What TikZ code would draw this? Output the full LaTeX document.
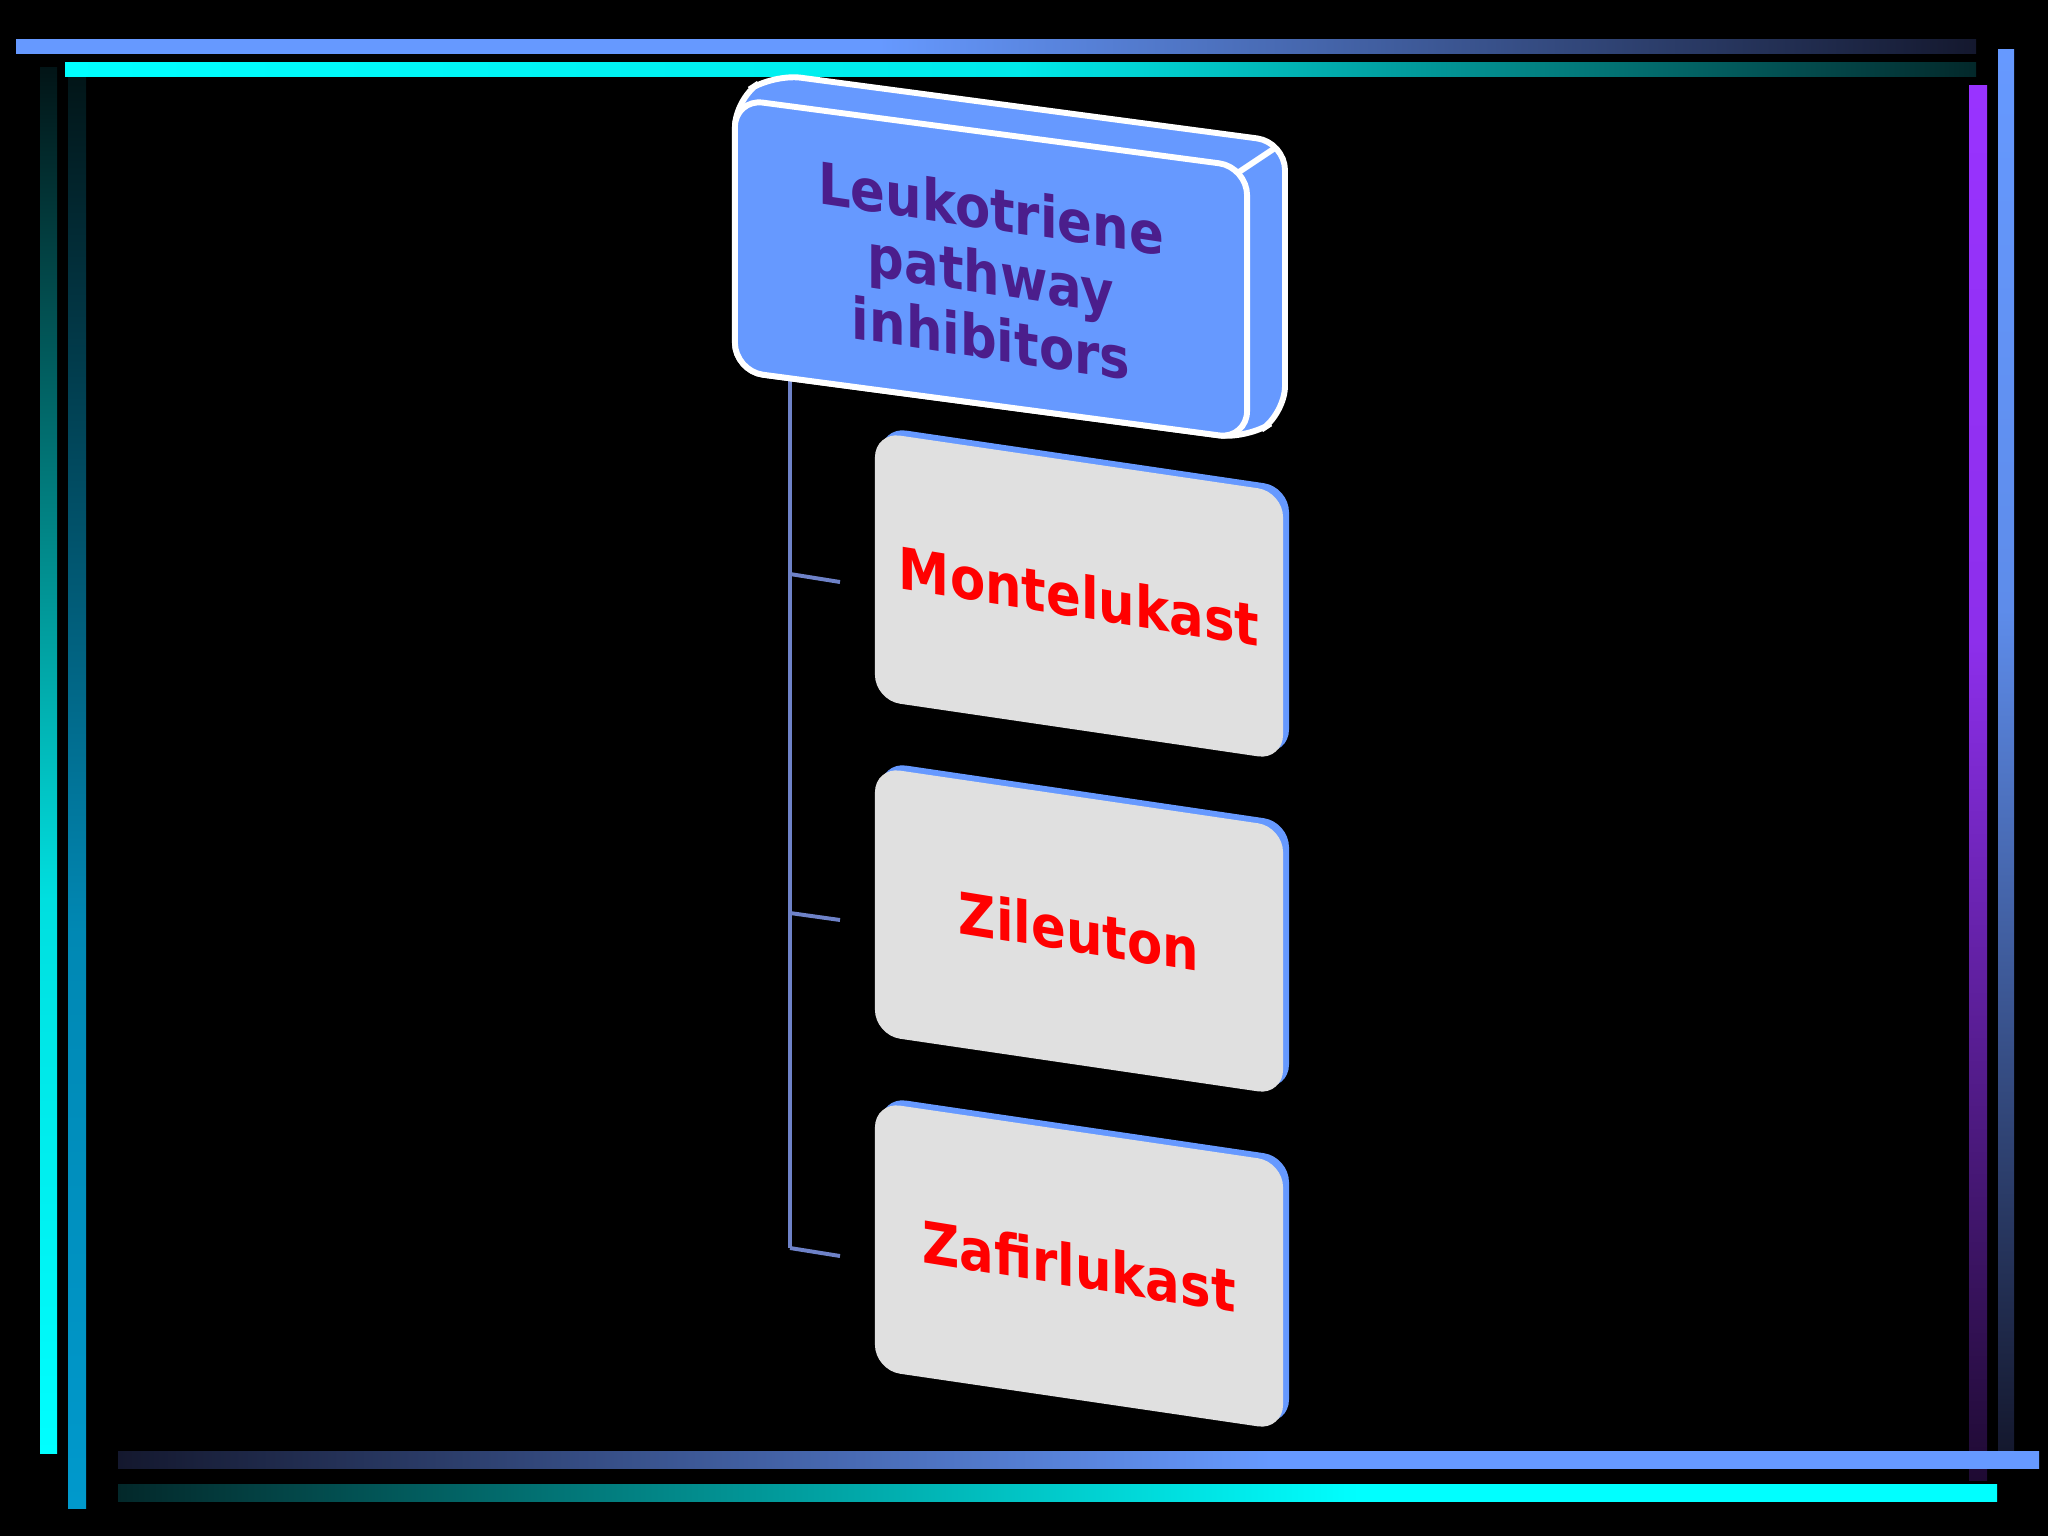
\documentclass[tikz,border=0pt]{standalone}
\usepackage{fontspec}
\setmainfont{DejaVu Sans}
\definecolor{hblue}{HTML}{6699FF}
\definecolor{htext}{HTML}{4B1E8C}
\definecolor{cgrey}{HTML}{E0E0E0}
\definecolor{cred}{HTML}{FF0000}
\definecolor{conn}{HTML}{6E82C8}
\definecolor{bcyan}{HTML}{00FFFF}
\definecolor{bsky}{HTML}{0099CC}
\definecolor{bpurple}{HTML}{9933FF}
\definecolor{dkblue}{HTML}{14182E}
\definecolor{dkteal}{HTML}{03282A}
\definecolor{dkpurple}{HTML}{1E0A32}
\definecolor{vdark}{HTML}{021416}
\pgfdeclarehorizontalshading{topblue}{100bp}{color(0bp)=(hblue); color(25bp)=(hblue); color(47bp)=(hblue); color(75bp)=(dkblue); color(100bp)=(dkblue)}
\pgfdeclarehorizontalshading{topcyan}{100bp}{color(0bp)=(bcyan); color(25bp)=(bcyan); color(50bp)=(bcyan!90!dkteal); color(75bp)=(dkteal); color(100bp)=(dkteal)}
\pgfdeclarehorizontalshading{botblue}{100bp}{color(0bp)=(dkblue); color(25bp)=(dkblue); color(55bp)=(hblue); color(75bp)=(hblue); color(100bp)=(hblue)}
\pgfdeclarehorizontalshading{botcyan}{100bp}{color(0bp)=(dkteal); color(25bp)=(dkteal); color(58bp)=(bcyan); color(75bp)=(bcyan); color(100bp)=(bcyan)}
\pgfdeclareverticalshading{leftcyan}{100bp}{color(0bp)=(bcyan); color(25bp)=(bcyan); color(45bp)=(bcyan!85!dkteal); color(75bp)=(vdark); color(100bp)=(vdark)}
\pgfdeclareverticalshading{leftsky}{100bp}{color(0bp)=(bsky); color(25bp)=(bsky); color(45bp)=(bsky!85!dkteal); color(75bp)=(vdark); color(100bp)=(vdark)}
\pgfdeclareverticalshading{rightpurple}{100bp}{color(0bp)=(dkpurple); color(25bp)=(dkpurple); color(55bp)=(bpurple!90!dkpurple); color(75bp)=(bpurple); color(100bp)=(bpurple)}
\pgfdeclareverticalshading{rightblue}{100bp}{color(0bp)=(dkblue); color(25bp)=(dkblue); color(55bp)=(hblue!90!dkblue); color(75bp)=(hblue); color(100bp)=(hblue)}
\begin{document}
\begin{tikzpicture}[x=0.0125cm,y=-0.0125cm,
  lbl/.style={font=\bfseries\fontsize{20.5}{23.1}\selectfont, inner sep=0pt, align=center, xscale=0.89, transform shape},
  hface/.style={draw=white, line width=2.1pt, fill=hblue, rounded corners=10pt, minimum width=6.4cm, minimum height=3.4cm, inner sep=0pt, transform shape},
  cface/.style={fill=cgrey, rounded corners=9pt, minimum width=5.1cm, minimum height=3.35cm, inner sep=0pt, transform shape},
  connector/.style={draw=conn, line width=1.4pt}]
% background
\fill[black] (0,0) rectangle (2048,1536);
\useasboundingbox (0,0) rectangle (2048,1536);
% left verticals
\shade[shading=leftcyan] (40,67) rectangle (57,1453);
\shade[shading=leftsky] (68,67) rectangle (86,1508);
% right verticals
\shade[shading=rightpurple] (1969,85) rectangle (1987,1480);
\shade[shading=rightblue] (1998,49) rectangle (2014,1450);
% top bars
\shade[shading=topblue] (16,39) rectangle (1976,53);
\shade[shading=topcyan] (65,62) rectangle (1976,76);
% bottom bars
\shade[shading=botblue] (118,1451) rectangle (2039,1468);
\shade[shading=botcyan] (118,1484) rectangle (1997,1501);

% connector coordinates
\coordinate (trunk) at (790,360);
\coordinate (k1) at (790,574); \coordinate (e1) at (840,582);
\coordinate (k2) at (790,913); \coordinate (e2) at (840,920);
\coordinate (k3) at (790,1248); \coordinate (e3) at (840,1256);
\draw[connector] (trunk) -- (k3);
\draw[connector] (k1) -- (e1);
\draw[connector] (k2) -- (e2);
\draw[connector] (k3) -- (e3);

% header box
\begin{scope}[shift={(991,269)}, yslant=-0.133]
  \filldraw[fill=hblue, draw=white, line width=2.1pt, rounded corners=10pt]
    (-256,-136) -- (-218,-166) -- (294,-166) -- (294,106) -- (256,136) -- (-256,136) -- cycle;
  \draw[white, line width=2.1pt] (248,-130) -- (283,-158);
  \node[hface] (hdr) at (0,0) {};
  \node[lbl, text=htext, yslant=-0.017] (hdrtext) at (0,4) {Leukotriene\\pathway\\inhibitors};
\end{scope}

% child boxes
\foreach \n/\cy/\t in {mon/596/Montelukast, zil/931/Zileuton, zaf/1266/Zafirlukast}{
  \begin{scope}[shift={(1079,\cy)}, yslant=-0.147]
    \fill[hblue, rounded corners=9pt] (-198,-140) rectangle (210,128);
    \node[cface] (\n) at (0,0) {};
    \node[lbl, text=cred, yslant=-0.013] (\n-text) at (0,0) {\t};
  \end{scope}
}
\end{tikzpicture}
\end{document}
